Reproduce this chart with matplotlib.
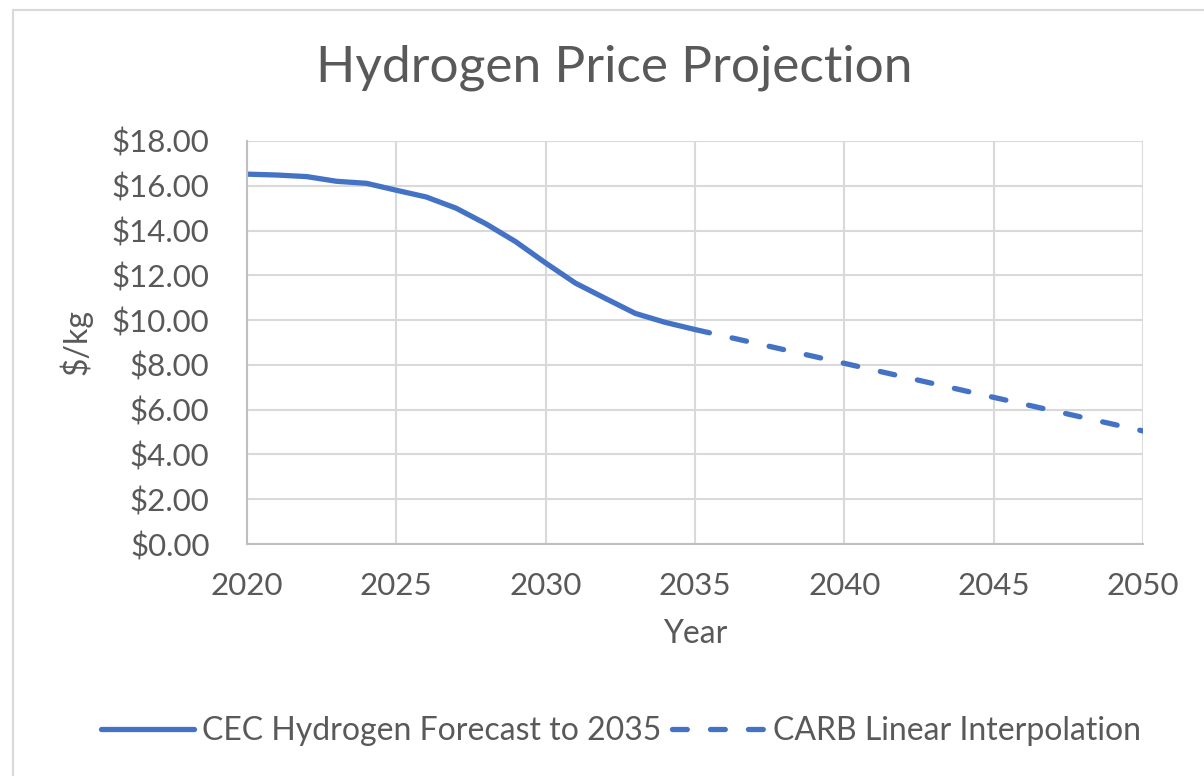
import matplotlib.pyplot as plt
import matplotlib.ticker as mticker
from matplotlib.patches import Rectangle

plt.rcParams["font.family"] = ["Lato", "DejaVu Sans"]

# CEC forecast
cec_years = [2020, 2021, 2022, 2023, 2024, 2025, 2026, 2027, 2028, 2029,
             2030, 2031, 2032, 2033, 2034, 2035]
cec_price = [16.52, 16.48, 16.41, 16.20, 16.11, 15.80, 15.50, 15.00, 14.30, 13.50,
             12.55, 11.65, 10.97, 10.30, 9.90, 9.58]

# CARB linear interpolation
carb_years = [2035, 2040, 2045, 2050]
carb_price = [9.58, 8.07, 6.55, 5.05]

blue = "#4472C4"
text_c = "#595959"
grid_c = "#D9D9D9"

fig = plt.figure(figsize=(12.04, 7.76), dpi=100)
ax = fig.add_axes([247 / 1204, 1 - 544 / 776, 896 / 1204, 403 / 776])

ax.plot(cec_years, cec_price, color=blue, lw=3.8, solid_capstyle="round",
        label="CEC Hydrogen Forecast to 2035")
ax.plot(carb_years, carb_price, color=blue, lw=3.8, dashes=(2.8, 4.4),
        dash_capstyle="round", label="CARB Linear Interpolation")

ax.set_xlim(2020, 2050)
ax.set_ylim(0, 18)
ax.set_xticks(range(2020, 2051, 5))
ax.set_yticks(range(0, 19, 2))
ax.yaxis.set_major_formatter(mticker.FuncFormatter(lambda v, p: f"${v:.2f}"))
ax.grid(True, color=grid_c, lw=1.5)
ax.set_axisbelow(True)
for s in ["top", "right"]:
    ax.spines[s].set_visible(False)
for s in ["left", "bottom"]:
    ax.spines[s].set_color("#BFBFBF")
    ax.spines[s].set_linewidth(1.5)
ax.tick_params(length=0, labelsize=22.5, colors=text_c)
ax.tick_params(axis="y", pad=27)
ax.tick_params(axis="x", pad=20)

ax.set_xlabel("Year", fontsize=23, color=text_c, labelpad=14)
ax.set_ylabel("$/kg", fontsize=23, color=text_c, labelpad=14)
fig.text(614 / 1204, 1 - 68 / 776, "Hydrogen Price Projection", fontsize=37,
         color=text_c, ha="center", va="center")

fig.legend(loc="center", bbox_to_anchor=(621 / 1204, 1 - 731 / 776), ncol=2,
           frameon=False, fontsize=23, labelcolor=text_c, handlelength=2.9,
           handletextpad=0.25, columnspacing=0.35)

fig.patches.append(Rectangle((13 / 1204, -0.1), 1.2, 1 - 10 / 776 + 0.1,
                             transform=fig.transFigure, fill=False,
                             edgecolor="#D9D9D9", lw=1.5))

fig.savefig("out.png", dpi=100)
